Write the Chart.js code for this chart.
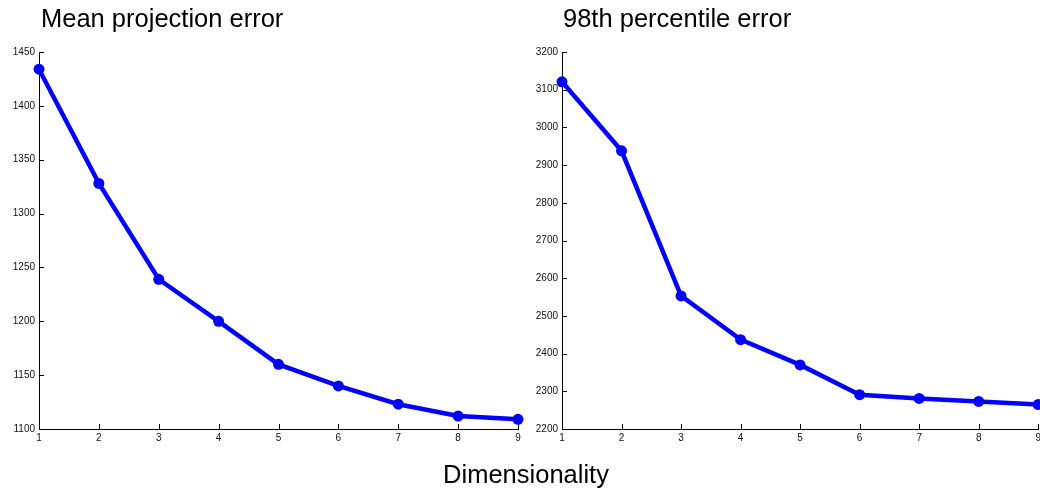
<!DOCTYPE html>
<html>
<head>
<meta charset="utf-8">
<script src="https://cdn.jsdelivr.net/npm/chart.js@4.4.1/dist/chart.umd.min.js"></script>
<style>
  html, body { margin: 0; padding: 0; background: #fff; }
  #wrap { position: relative; width: 1040px; height: 492px; overflow: hidden; }
  canvas { position: absolute; top: 0; }
  .lbl { position: absolute; font-family: "Liberation Sans", Arial, sans-serif; font-size: 25.5px; line-height: 25px; color: #000; white-space: nowrap; }
</style>
</head>
<body>
<div id="wrap">
  <canvas id="meanChart" style="left:0px"></canvas>
  <canvas id="pctChart" style="left:500px"></canvas>
  <div class="lbl" style="left:41px; top:6px">Mean projection error</div>
  <div class="lbl" style="left:563px; top:6px">98th percentile error</div>
  <div class="lbl" id="xlab" style="left:526px; top:462px; transform:translateX(-50%)">Dimensionality</div>
</div>
<script>
const dims = ["1", "2", "3", "4", "5", "6", "7", "8", "9"];
const meanError = [1434, 1328, 1239, 1200, 1160, 1140, 1123, 1112, 1109];
const pctError = [3121, 2938, 2553, 2437, 2370, 2291, 2281, 2273, 2265];
const meanTicks = [1100, 1450, 50];
const pctTicks = [2200, 3200, 100];

// matlab style: tick marks pointing into the plot
const inwardTicks = {
  id: "inwardTicks",
  afterDraw(chart) {
    const ctx = chart.ctx;
    const xs = chart.scales.x, ys = chart.scales.y;
    const area = chart.chartArea;
    ctx.save();
    ctx.strokeStyle = "#000";
    ctx.lineWidth = 1;
    ctx.beginPath();
    xs.ticks.forEach((t, i) => {
      const px = Math.round(xs.getPixelForTick(i)) + 0.5;
      ctx.moveTo(px, area.bottom);
      ctx.lineTo(px, area.bottom - 5);
    });
    ys.ticks.forEach((t) => {
      const py = Math.round(ys.getPixelForValue(t.value)) + 0.5;
      ctx.moveTo(area.left, py);
      ctx.lineTo(area.left + 5, py);
    });
    ctx.stroke();
    ctx.restore();
  }
};

function makeChart(id, values, yt, yWidth, width, padRight) {
  const canvas = document.getElementById(id);
  canvas.width = width;
  canvas.height = 492;
  canvas.style.width = width + "px";
  canvas.style.height = "492px";
  return new Chart(canvas, {
    type: "line",
    data: {
      labels: dims,
      datasets: [{
        data: values,
        borderColor: "#0000ff",
        backgroundColor: "#0000ff",
        borderWidth: 4.5,
        pointRadius: 5.5,
        pointHoverRadius: 5.5,
        pointBorderWidth: 0,
        tension: 0,
        clip: false
      }]
    },
    options: {
      responsive: false,
      animation: false,
      layout: { padding: { top: 52, right: padRight, left: 0, bottom: 0 } },
      plugins: { legend: { display: false }, tooltip: { enabled: false } },
      scales: {
        x: {
          offset: false,
          grid: { drawOnChartArea: false, drawTicks: false },
          border: { color: "#000", width: 1 },
          ticks: {
            color: "#111", padding: 3, maxRotation: 0, autoSkip: false,
            font: { family: "Liberation Sans", size: 10 }
          },
          afterFit(scale) { scale.height = 63; }
        },
        y: {
          min: yt[0], max: yt[1],
          grid: { drawOnChartArea: false, drawTicks: false },
          border: { color: "#000", width: 1 },
          ticks: {
            stepSize: yt[2], color: "#111", padding: 4,
            font: { family: "Liberation Sans", size: 10 },
            callback: (v) => String(v)
          },
          afterFit(scale) { scale.width = yWidth; }
        }
      }
    },
    plugins: [inwardTicks]
  });
}

makeChart("meanChart", meanError, meanTicks, 39, 540, 22);
makeChart("pctChart", pctError, pctTicks, 62, 544, 0);
</script>
</body>
</html>
